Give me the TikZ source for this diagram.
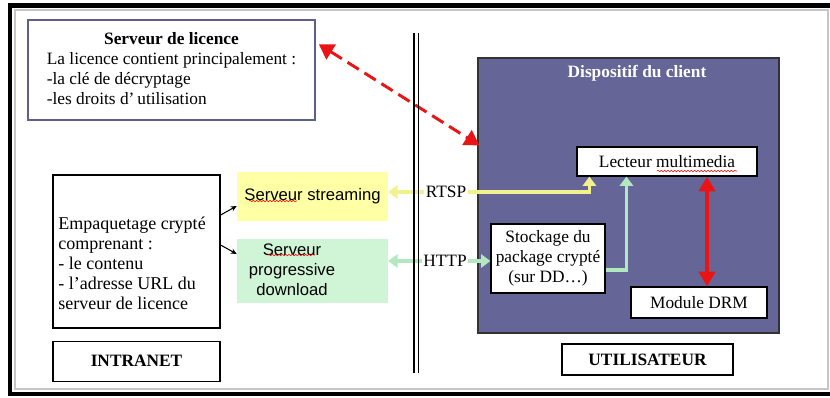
\documentclass[tikz,border=0pt]{standalone}
\usepackage{fontspec}
\setmainfont{Liberation Serif}
\setsansfont{Liberation Sans}
\usetikzlibrary{positioning,calc,arrows.meta,decorations.pathmorphing}

\definecolor{clientfill}{RGB}{101,101,151}
\definecolor{licborder}{RGB}{95,95,140}
\definecolor{streamfill}{RGB}{255,255,165}
\definecolor{progfill}{RGB}{208,245,214}
\definecolor{rtspcol}{RGB}{242,242,140}
\definecolor{httpcol}{RGB}{178,232,192}
\definecolor{drmred}{RGB}{235,20,20}

\begin{document}
\begin{tikzpicture}[x=0.75pt,y=-0.75pt,
  txt/.style={font=\fontsize{13}{15}\selectfont},
  box/.style={draw,rectangle,fill=white,line width=0.9pt,inner sep=0pt,align=center,txt},
  srv/.style={rectangle,inner sep=0pt,align=center,font=\sffamily\fontsize{12.5}{15}\selectfont},
  rtspline/.style={draw=rtspcol,line width=2.4pt,-{Triangle[width=10pt,length=7pt]}},
  httpline/.style={draw=httpcol,line width=2.4pt,-{Triangle[width=10pt,length=7pt]}},
  squiggle/.style={draw=red,line width=0.4pt,decorate,decoration={snake,amplitude=0.6pt,segment length=2.5pt}}]
\useasboundingbox (0,0) rectangle (830,397);

% frame
\draw[gray!45,line width=1pt] (15,10) -- (828,10) -- (828,389) -- (15,389) -- cycle;
\draw[line width=3.5pt] (830,5.5) -- (10,5.5) -- (10,394) -- (830,394);

% intranet side
\node[box,draw=licborder,line width=1.2pt,minimum width=215.25pt,minimum height=75pt] (lic) at (171.5,70)
  {\begin{tabular}{@{}l@{}}\multicolumn{1}{@{}c@{}}{\textbf{Serveur de licence}}\\
   La licence contient principalement :\\-la clé de décryptage\\-les droits d’\,utilisation\end{tabular}};
\node[box,minimum width=125.25pt,minimum height=114.75pt] (empaq) at (136.5,251.5) {};
\node[txt,align=left,inner sep=0pt,font=\fontsize{13.5}{15}\selectfont] (empaqtxt) at (132,263)
  {Empaquetage crypté\\comprenant :\\- le contenu\\- l’adresse URL du\\serveur de licence};
\node[box,below=9pt of empaq,minimum width=125.25pt,minimum height=30pt,font=\bfseries\fontsize{13}{15}\selectfont] (intranet) {INTRANET};

\node[srv,fill=streamfill,minimum width=113.25pt,minimum height=36.75pt] (streaming) at (312.5,196.5) {Serveur streaming};
\node[srv,fill=progfill,minimum width=113.25pt,minimum height=48pt] (progressive) at (312.5,271) {};
\node[srv] (progtxt) at (292,270) {Serveur\\progressive\\download};

% client side
\node[rectangle,draw=black!80,line width=1pt,fill=clientfill,minimum width=225.75pt,minimum height=206.25pt] (client) at (628.5,195.5) {};
\node[txt,text=white,font=\bfseries\fontsize{13}{15}\selectfont] (clienttitle) at (637,73) {Dispositif du client};
\node[box,minimum width=135pt,minimum height=21.75pt] (lecteur) at (667,161.5) {Lecteur multimedia};
\node[box,minimum width=85.5pt,minimum height=51.75pt] (stockage) at (548,258.5) {Stockage du\\package crypté\\(sur DD…)};
\node[box,minimum width=102pt,minimum height=23.25pt] (drm) at (699,302.5) {Module DRM};
\node[box,minimum width=128.25pt,minimum height=23.25pt,font=\bfseries\fontsize{13}{15}\selectfont] (utilisateur) at (647.5,359.5) {UTILISATEUR};

\node[txt,inner sep=1pt] (rtsp) at (446,192) {RTSP};
\node[txt,inner sep=1pt] (http) at (445,261) {HTTP};

% connectors
\draw[-{Stealth[length=4.5pt,width=4pt]},line width=0.8pt] ($(empaq.east)+(0,-36.5)$) -- ($(streaming.west)+(0,9.5)$);
\draw[-{Stealth[length=4.5pt,width=4pt]},line width=0.8pt] ($(empaq.east)+(0,-6.5)$) -- ($(progressive.west)+(0,-17)$);

\coordinate (rtspin) at ($(lecteur.south west)+(13,0)$);
\coordinate (dlin) at ($(lecteur.south west)+(50,0)$);
\draw[rtspline] (rtsp.west) -- (streaming.east |- rtsp.west);
\draw[rtspline] (rtsp.east) -| (rtspin);
\draw[httpline] (http.west) -- (progressive.east |- http.west);
\draw[httpline] (http.east) -- (stockage.west |- http.east);
\draw[httpline] ($(stockage.east)+(0,11.5)$) -| (dlin);

\draw[drmred,line width=3pt,{Triangle[width=12pt,length=11pt]}-{Triangle[width=12pt,length=11pt]}]
  ($(lecteur.south)+(40,0)$) -- ($(drm.north)+(8,0)$);
\draw[drmred,line width=2.2pt,dash pattern=on 10pt off 5pt,{Triangle[width=13pt,length=11pt]}-{Triangle[width=13pt,length=11pt]}]
  ($(lic.north east)+(3,25)$) -- ($(client.north west)+(2,88)$);

% separator
\draw[line width=1.2pt] (414,33) -- (414,373);
\draw[line width=1.2pt] (418.5,33) -- (418.5,373);

% spelling marks
\draw[squiggle] (249,201) -- (297,201);
\draw[squiggle] (268,255) -- (315,255);
\draw[squiggle] (657,171) -- (737,171);
\end{tikzpicture}
\end{document}
